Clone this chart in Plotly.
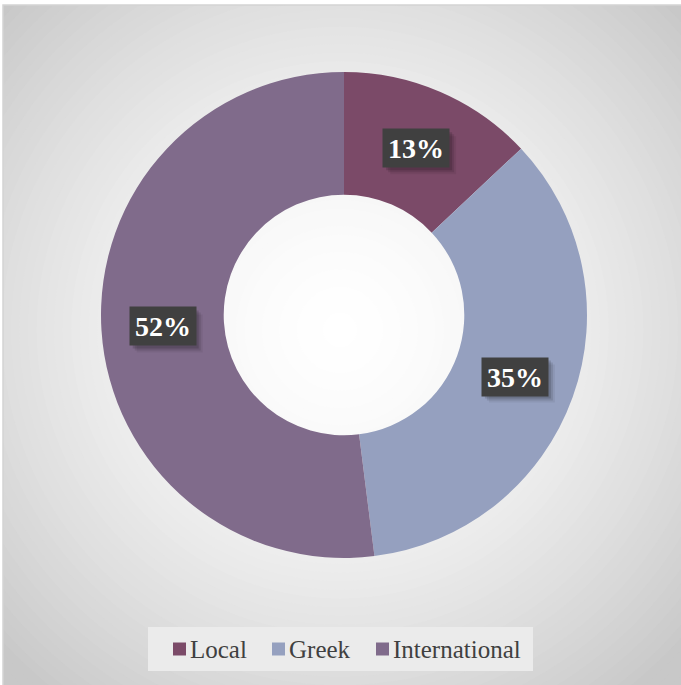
import math
import plotly.graph_objects as go

# Share of visitors by origin
categories = ["Local", "Greek", "International"]
shares = [13, 35, 52]
colors = ["#7b4a68", "#95a0bf", "#806b8b"]

W, H = 681, 685
CX, CY = 344, 315          # donut centre in pixels
R_OUT, HOLE = 243, 0.495    # outer radius (px) and hole fraction


def px(x):
    return x / W


def py(y):
    return 1 - y / H


fig = go.Figure()
fig.add_trace(go.Pie(
    labels=categories,
    values=shares,
    hole=HOLE,
    sort=False,
    direction="clockwise",
    rotation=0,
    marker=dict(colors=colors, line=dict(width=0)),
    textinfo="none",
    hoverinfo="label+percent",
    showlegend=False,
    domain=dict(x=[px(CX - R_OUT), px(CX + R_OUT)],
                y=[py(CY + R_OUT), py(CY - R_OUT)]),
))

shapes = []
# radial background gradient: white centre fading to grey at the corners
x0b, y0b = 3, 5
gc_x, gc_y = 340, 330
steps = 60
r_max = 520
for i in range(steps):
    t = 1 - i / steps
    r = r_max * t
    g = 1 - min(1.0, (r / 470)) ** 1.6
    v = int(round(200 + (255 - 200) * g))
    shapes.append(dict(
        type="circle", xref="paper", yref="paper", layer="below",
        x0=px(gc_x - r), x1=px(gc_x + r), y0=py(gc_y + r), y1=py(gc_y - r),
        fillcolor=f"rgb({v},{v},{v})", line=dict(width=0),
    ))
# white strips outside the chart frame + frame line
shapes.append(dict(type="rect", xref="paper", yref="paper", layer="below",
                   x0=0, x1=1, y0=py(y0b), y1=1,
                   fillcolor="white", line=dict(width=0)))
shapes.append(dict(type="rect", xref="paper", yref="paper", layer="below",
                   x0=0, x1=px(x0b), y0=0, y1=1,
                   fillcolor="white", line=dict(width=0)))
shapes.append(dict(type="rect", xref="paper", yref="paper", layer="below",
                   x0=px(x0b), x1=px(W + 2), y0=py(H + 2), y1=py(y0b),
                   line=dict(color="#d4d4d4", width=1.5)))

# percentage labels in dark boxes at mid-ring of each slice
annotations = []
total = sum(shares)
r_mid = R_OUT * (1 + HOLE) / 2
BW, BH = 66, 38
cum = 0
for val in shares:
    ang = 2 * math.pi * (cum + val / 2) / total
    cum += val
    lx = CX + r_mid * math.sin(ang)
    ly = CY - r_mid * math.cos(ang)
    # soft drop shadow behind the label box
    for k, op in ((7, 0.06), (5, 0.10), (3, 0.14)):
        shapes.append(dict(
            type="rect", xref="paper", yref="paper", layer="above",
            x0=px(lx - BW / 2 + k), x1=px(lx + BW / 2 + k),
            y0=py(ly + BH / 2 + k), y1=py(ly - BH / 2 + k),
            fillcolor=f"rgba(0,0,0,{op})", line=dict(width=0),
        ))
    annotations.append(dict(
        xref="paper", yref="paper", showarrow=False,
        xanchor="center", yanchor="middle", x=px(lx), y=py(ly),
        text=f"<b>{round(100 * val / total)}%</b>",
        font=dict(family="Liberation Serif", size=28, color="white"),
        bgcolor="#404040", borderpad=4, width=BW - 8, height=BH - 8,
    ))

# legend drawn as a boxed row of swatches and labels
LEG_Y = 649
shapes.append(dict(type="rect", xref="paper", yref="paper", layer="above",
                   x0=px(148), x1=px(533), y0=py(671), y1=py(627),
                   fillcolor="#ebebeb", line=dict(width=0)))
leg_x = [173, 272, 376]
for name, col, x in zip(categories, colors, leg_x):
    shapes.append(dict(type="rect", xref="paper", yref="paper", layer="above",
                       x0=px(x), x1=px(x + 13), y0=py(LEG_Y + 6.5),
                       y1=py(LEG_Y - 6.5), fillcolor=col, line=dict(width=0)))
    annotations.append(dict(
        xref="paper", yref="paper", showarrow=False,
        xanchor="left", yanchor="middle", x=px(x + 15), y=py(LEG_Y),
        text=name,
        font=dict(family="Liberation Serif", size=25, color="#404040"),
    ))

fig.update_layout(
    width=W, height=H,
    margin=dict(l=0, r=0, t=0, b=0),
    paper_bgcolor="white",
    plot_bgcolor="rgba(0,0,0,0)",
    shapes=shapes,
    annotations=annotations,
    showlegend=False,
)

fig.write_html("out.html")
